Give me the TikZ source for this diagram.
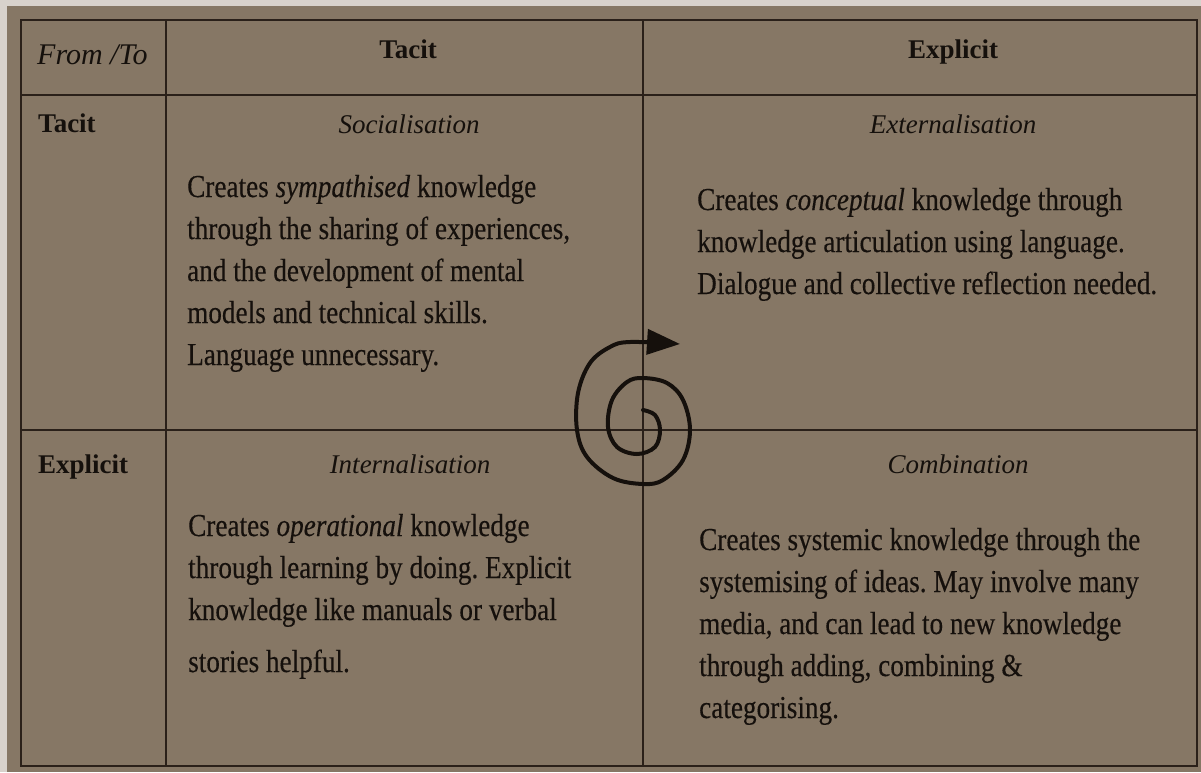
\documentclass[tikz,border=0pt]{standalone}
\usepackage{fontspec}
\setmainfont{Liberation Serif}
\newfontfamily\bodyfont[FakeStretch=0.85,FakeBold=0.3]{Liberation Serif}
\usetikzlibrary{arrows.meta}
\definecolor{paper}{HTML}{867765}
\definecolor{margin}{HTML}{D8D2CC}
\definecolor{ink}{HTML}{15100C}
\definecolor{rule}{HTML}{2A2019}
\frenchspacing
\tikzset{
  lbl/.style={inner sep=0pt, text=ink, font=\fontsize{27}{40}\selectfont},
  body/.style={inner sep=0pt, text=ink, align=left, anchor=base west,
    font=\bodyfont\fontsize{32}{42}\selectfont},
  gridline/.style={draw=rule, line width=2pt},
  spiral/.style={draw=ink, line width=4pt, line cap=round,
    -{Triangle[length=33pt,width=25pt]}}
}
\begin{document}
\begin{tikzpicture}[x=1pt,y=-1pt]
\useasboundingbox (0,0) rectangle (1201,772);
\fill[margin] (0,0) rectangle (1201,772);
\fill[paper] (7,6) rectangle (1201,772);
% table frame
\draw[gridline] (21,20) rectangle (1197,766);
\draw[gridline] (21,95) -- (1197,95);
\draw[gridline] (21,430) -- (1197,430);
\draw[gridline] (166,20) -- (166,766);
\draw[gridline] (643,20) -- (643,766);
% headers
\node[lbl, anchor=base west, font=\fontsize{30}{40}\selectfont] (fromto) at (37,64) {\itshape From /To};
\node[lbl, anchor=base] (htacit) at (408,58) {\bfseries Tacit};
\node[lbl, anchor=base] (hexpl) at (953,58) {\bfseries Explicit};
\node[lbl, anchor=base west] (rtacit) at (38,132) {\bfseries Tacit};
\node[lbl, anchor=base west] (rexpl) at (38,473) {\bfseries Explicit};
% mode titles
\node[lbl, anchor=base] (soc) at (409,133) {\itshape Socialisation};
\node[lbl, anchor=base] (ext) at (953,133) {\itshape Externalisation};
\node[lbl, anchor=base] (int) at (410,473) {\itshape Internalisation};
\node[lbl, anchor=base] (com) at (958,473) {\itshape Combination};
% body texts (base anchor = baseline of last line)
\node[body] (socb) at (187,365) {Creates \textit{sympathised} knowledge\\
through the sharing of experiences,\\
and the development of mental\\
models and technical skills.\\
Language unnecessary.};
\node[body] (extb) at (697,294) {Creates \textit{conceptual} knowledge through\\
knowledge articulation using language.\\
Dialogue and collective reflection needed.};
\node[body] (intb) at (188,672) {Creates \textit{operational} knowledge\\
through learning by doing. Explicit\\
knowledge like manuals or verbal\\[10pt]
stories helpful.};
\node[body] (comb) at (699,718) {Creates systemic knowledge through the\\
systemising of ideas. May involve many\\
media, and can lead to new knowledge\\
through adding, combining \&\\
categorising.};
% spiral
\draw[spiral] plot[smooth, tension=0.6] coordinates {
 (643,410) (655,415) (660,430) (655,447) (637,454) (617,447) (608,427)
 (612,400) (627,382) (643,378) (667,383) (683,400) (690,430) (683,460)
 (663,480) (643,484) (613,478) (587,457) (577,430) (578,393) (590,363)
 (610,347) (630,342) (680,344)};
\end{tikzpicture}
\end{document}
